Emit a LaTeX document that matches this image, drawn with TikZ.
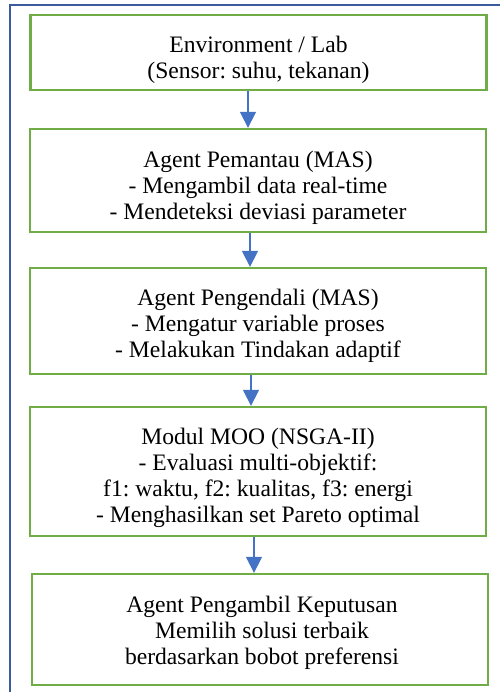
\documentclass[tikz,border=0pt]{standalone}
\usepackage{fontspec}
\setmainfont{Liberation Serif}
\usetikzlibrary{arrows.meta}
\definecolor{boxgreen}{HTML}{70AD47}
\definecolor{arrblue}{HTML}{4472C4}
\definecolor{framblue}{HTML}{3B5B9C}
\newcommand{\px}{0.75pt}
\frenchspacing

\begin{document}
\begin{tikzpicture}[x=0.75pt,y=-0.75pt]
      \tikzstyle{every node}+=[font=\fontsize{17.7pt}{19.6pt}\selectfont, align=center, inner sep=0pt]
      \tikzstyle{stage}=[draw=boxgreen, line width=2.3*\px, minimum width=456*\px]
      \tikzstyle{flow}=[arrblue, line width=1.3*\px, -{Triangle[width=16*\px, length=16*\px]}]
      \useasboundingbox (0,0) rectangle (500,692);
      \draw [framblue, line width=2.2*\px] (10,692) -- (10,5) -- (500,5);
      \node [stage, minimum height=75*\px] (env) at (258.5,52.5) {};
      \node [stage, minimum height=103*\px] (pemantau) at (258,180.5) {};
      \node [stage, minimum height=106*\px] (pengendali) at (258,321) {};
      \node [stage, minimum height=129*\px] (moo) at (258,471.5) {};
      \node [stage, minimum height=111*\px] (keputusan) at (260,629.5) {};
      \node (env text) at (258.5,60) {Environment / Lab\\(Sensor: suhu, tekanan)};
      \node (pemantau text) at (258,188) {Agent Pemantau (MAS)\\- Mengambil data real-time\\- Mendeteksi deviasi parameter};
      \node (pengendali text) at (258,326) {Agent Pengendali (MAS)\\- Mengatur variable proses\\- Melakukan Tindakan adaptif};
      \node (moo text) at (258,478) {Modul MOO (NSGA-II)\\- Evaluasi multi-objektif:\\f1: waktu, f2: kualitas, f3: energi\\- Menghasilkan set Pareto optimal};
      \node (keputusan text) at (262,633) {Agent Pengambil Keputusan\\Memilih solusi terbaik\\berdasarkan bobot preferensi};
      \draw [flow] (env.south -| 248,0) -- (pemantau.north -| 248,0);
      \draw [flow] (pemantau.south -| 250,0) -- (pengendali.north -| 250,0);
      \draw [flow] (pengendali.south -| 251,0) -- (moo.north -| 251,0);
      \draw [flow] (moo.south -| 254,0) -- (keputusan.north -| 254,0);
    \end{tikzpicture}
\end{document}
